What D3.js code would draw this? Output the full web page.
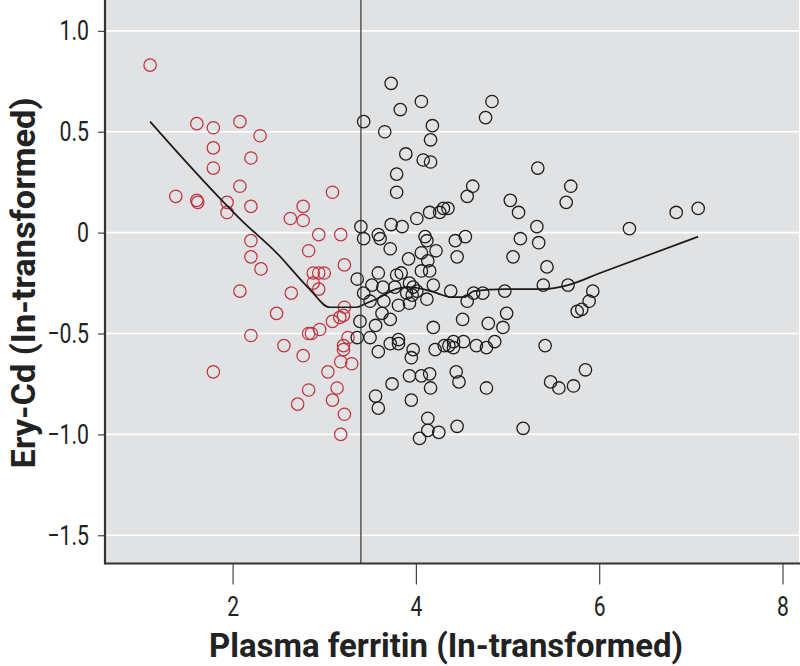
<!DOCTYPE html>
<html>
<head>
<meta charset="utf-8">
<script src="https://cdn.jsdelivr.net/npm/d3@7"></script>
<style>
  html, body { margin: 0; padding: 0; background: #ffffff; }
  svg { display: block; }
  text { font-family: "Roboto", "Liberation Sans", sans-serif; fill: #222; }
</style>
</head>
<body>
<svg id="chart" width="800" height="666"></svg>
<script>
// ---------- data ----------
const redX = [1.10,1.61,1.79,2.08,2.30,1.79,2.20,1.79,2.08,1.38,1.61,1.62,3.09,1.94,1.94,2.20,2.77,2.63,2.77,2.94,
  3.18,2.20,2.83,2.20,2.31,3.22,2.88,2.94,3.00,2.88,2.94,2.08,2.64,2.48,3.22,3.21,3.17,3.09,2.20,2.83,
  2.86,2.95,2.56,2.77,3.21,3.26,3.21,3.18,3.30,1.79,3.04,2.83,3.14,3.09,2.71,3.22,3.18];
const redY = [0.83,0.54,0.52,0.55,0.48,0.42,0.37,0.32,0.23,0.18,0.16,0.15,0.20,0.15,0.10,0.13,0.13,0.07,0.06,-0.01,
  -0.01,-0.04,-0.09,-0.12,-0.18,-0.16,-0.20,-0.20,-0.20,-0.25,-0.28,-0.29,-0.30,-0.40,-0.37,-0.41,-0.42,-0.44,-0.51,-0.50,
  -0.50,-0.48,-0.56,-0.61,-0.56,-0.52,-0.58,-0.64,-0.65,-0.69,-0.69,-0.78,-0.77,-0.83,-0.85,-0.90,-1.00];

const blackX = [3.73,4.06,4.83,3.83,4.76,3.43,4.18,3.66,4.16,3.89,4.08,4.16,5.33,3.79,4.62,5.69,4.56,3.79,5.03,5.64,
  5.12,4.15,4.26,4.30,4.35,4.01,3.73,3.85,3.40,5.32,3.43,3.59,3.61,4.10,4.12,5.14,5.34,3.72,4.43,4.54,
  4.22,4.06,3.92,4.13,4.45,5.06,6.33,6.84,7.08,5.43,3.59,3.36,3.79,3.84,4.06,4.15,3.52,3.64,3.77,3.93,
  3.97,4.19,4.01,4.38,4.63,4.73,4.97,5.39,5.66,5.93,5.89,5.81,5.76,3.43,3.50,3.65,3.81,3.93,4.12,3.90,
  3.96,4.56,3.63,3.72,3.39,3.56,4.19,4.51,4.79,4.99,4.95,3.36,3.50,3.59,3.72,3.81,3.81,3.97,3.95,4.21,
  4.31,4.36,4.41,4.41,4.52,4.66,4.77,4.86,5.41,3.93,4.06,4.15,4.16,3.74,4.44,4.47,4.77,5.47,5.56,5.72,
  5.85,3.56,3.59,3.95,4.13,4.13,4.04,4.25,4.45,5.17];
const blackY = [0.74,0.65,0.65,0.61,0.57,0.55,0.53,0.50,0.46,0.39,0.36,0.35,0.32,0.29,0.23,0.23,0.18,0.20,0.16,0.15,
  0.10,0.10,0.10,0.12,0.12,0.07,0.04,0.03,0.03,0.03,-0.03,-0.01,-0.03,-0.02,-0.04,-0.03,-0.05,-0.08,-0.04,-0.02,
  -0.09,-0.10,-0.13,-0.14,-0.12,-0.12,0.02,0.10,0.12,-0.17,-0.20,-0.23,-0.21,-0.20,-0.19,-0.19,-0.26,-0.27,-0.27,-0.25,
  -0.27,-0.26,-0.29,-0.29,-0.30,-0.30,-0.29,-0.26,-0.26,-0.29,-0.34,-0.38,-0.39,-0.30,-0.34,-0.34,-0.36,-0.35,-0.33,-0.30,
  -0.31,-0.34,-0.40,-0.43,-0.44,-0.46,-0.47,-0.43,-0.45,-0.40,-0.47,-0.52,-0.52,-0.59,-0.55,-0.53,-0.55,-0.58,-0.62,-0.58,
  -0.56,-0.56,-0.54,-0.57,-0.54,-0.56,-0.57,-0.54,-0.56,-0.71,-0.71,-0.70,-0.77,-0.75,-0.69,-0.74,-0.77,-0.74,-0.77,-0.76,
  -0.68,-0.81,-0.87,-0.83,-0.92,-0.98,-1.02,-0.99,-0.96,-0.97];

const loessX = [1.10,2.10,2.48,2.84,3.06,3.35,3.46,3.61,3.78,3.92,4.08,4.23,4.38,4.53,4.63,4.97,5.39,5.66,6.01,7.08];
const loessY = [0.55,0.06,-0.10,-0.28,-0.37,-0.37,-0.35,-0.32,-0.28,-0.27,-0.28,-0.30,-0.32,-0.32,-0.29,-0.28,-0.28,-0.26,-0.20,-0.02];

const cutoffX = 3.40;
const xTicks = [2, 4, 6, 8];
const xTickLabels = ["2", "4", "6", "8"];
const yTicks = [1.0, 0.5, 0, -0.5, -1.0, -1.5];
const yTickLabels = ["1.0", "0.5", "0", "\u22120.5", "\u22121.0", "\u22121.5"];
const xTitle = "Plasma ferritin (In-transformed)";
const yTitle = "Ery-Cd (In-transformed)";

// ---------- layout ----------
const plot = { left: 105, right: 799, top: 0, bottom: 563.5 };
const svg = d3.select("#chart");

const x = d3.scaleLinear().domain([0.608, 8.18]).range([plot.left, plot.right]);
const y = d3.scaleLinear().domain([-1.64, 1.153]).range([plot.bottom, plot.top]);

// condense text horizontally (reference uses a condensed face)
function condense(sel, factor) {
  sel.each(function () {
    const w = this.getComputedTextLength();
    d3.select(this).attr("textLength", w * factor).attr("lengthAdjust", "spacingAndGlyphs");
  });
}

// background
svg.append("rect")
  .attr("x", plot.left).attr("y", plot.top)
  .attr("width", plot.right - plot.left).attr("height", plot.bottom - plot.top)
  .attr("fill", "#e1e2e4");

// grid lines
svg.append("g").selectAll("line").data(yTicks).join("line")
  .attr("x1", plot.left).attr("x2", plot.right)
  .attr("y1", d => y(d)).attr("y2", d => y(d))
  .attr("stroke", "#ffffff").attr("stroke-width", 1.6);

// points
const red = redX.map((v, i) => ({ x: v, y: redY[i] }));
const black = blackX.map((v, i) => ({ x: v, y: blackY[i] }));

svg.append("g").selectAll("circle").data(red).join("circle")
  .attr("cx", d => x(d.x)).attr("cy", d => y(d.y)).attr("r", 6.2)
  .attr("fill", "none").attr("stroke", "#c23440").attr("stroke-width", 1.25);

svg.append("g").selectAll("circle").data(black).join("circle")
  .attr("cx", d => x(d.x)).attr("cy", d => y(d.y)).attr("r", 6.2)
  .attr("fill", "none").attr("stroke", "#1e1e1e").attr("stroke-width", 1.3);

// loess line
const loess = loessX.map((v, i) => [v, loessY[i]]);
svg.append("path")
  .datum(loess)
  .attr("d", d3.line().x(d => x(d[0])).y(d => y(d[1])).curve(d3.curveMonotoneX))
  .attr("fill", "none").attr("stroke", "#1a1a1a").attr("stroke-width", 1.7);

// cutoff vertical line
svg.append("line")
  .attr("x1", x(cutoffX)).attr("x2", x(cutoffX))
  .attr("y1", plot.top).attr("y2", plot.bottom)
  .attr("stroke", "#333").attr("stroke-width", 1.2);

// axes
const xAxis = d3.axisBottom(x).tickValues(xTicks).tickFormat((d, i) => xTickLabels[i])
  .tickSize(21).tickPadding(12);
const gx = svg.append("g").attr("transform", `translate(0,${plot.bottom})`).call(xAxis);
gx.select(".domain").remove();
gx.selectAll(".tick line").attr("stroke", "#444").attr("stroke-width", 1.2);
gx.selectAll(".tick text").attr("font-size", 28).attr("fill", "#222").call(condense, 0.75);

const yAxis = d3.axisLeft(y).tickValues(yTicks).tickFormat((d, i) => yTickLabels[i])
  .tickSize(7).tickPadding(9);
const gy = svg.append("g").attr("transform", `translate(${plot.left},0)`).call(yAxis);
gy.select(".domain").remove();
gy.selectAll(".tick line").attr("stroke", "#444").attr("stroke-width", 1.2);
gy.selectAll(".tick text").attr("font-size", 28).attr("fill", "#222").call(condense, 0.76);

// axis lines
svg.append("line")
  .attr("x1", plot.left).attr("x2", plot.left).attr("y1", plot.top).attr("y2", plot.bottom + 1)
  .attr("stroke", "#333").attr("stroke-width", 2.2);
svg.append("line")
  .attr("x1", plot.left).attr("x2", plot.right + 1).attr("y1", plot.bottom).attr("y2", plot.bottom)
  .attr("stroke", "#333").attr("stroke-width", 2.2);

// titles
svg.append("text")
  .attr("x", 446).attr("y", 657)
  .attr("text-anchor", "middle").attr("font-size", 33).attr("font-weight", "bold")
  .attr("textLength", 474).attr("lengthAdjust", "spacingAndGlyphs")
  .text(xTitle);

svg.append("text")
  .attr("transform", `translate(35,283) rotate(-90)`)
  .attr("text-anchor", "middle").attr("font-size", 33).attr("font-weight", "bold")
  .attr("textLength", 371).attr("lengthAdjust", "spacingAndGlyphs")
  .text(yTitle);
</script>
</body>
</html>
